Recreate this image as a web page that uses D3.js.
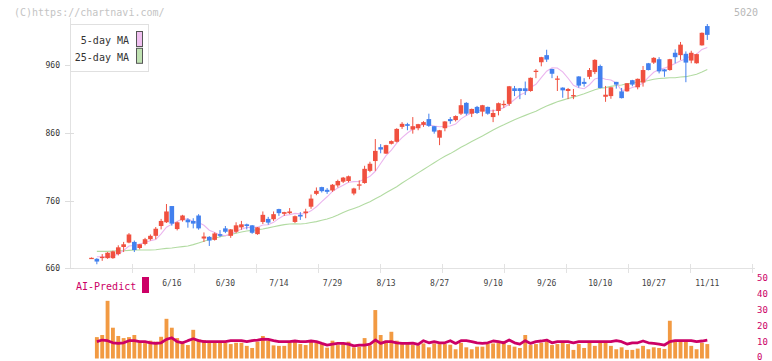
<!DOCTYPE html>
<html><head><meta charset="utf-8">
<script src="https://cdn.jsdelivr.net/npm/d3@7"></script>
<style>html,body{margin:0;padding:0;background:#fff;}svg{display:block;}</style>
</head><body>
<svg id="c" width="772" height="361"></svg>
<script>
const dates = ["5/26","5/27","5/28","5/29","5/30",
"6/2","6/3","6/4","6/5","6/6","6/9","6/10","6/11","6/12","6/13","6/16","6/17","6/18","6/19","6/20","6/23","6/24","6/25","6/26","6/27","6/30",
"7/1","7/2","7/3","7/4","7/7","7/8","7/9","7/10","7/11","7/14","7/15","7/16","7/17","7/18","7/22","7/23","7/24","7/25","7/28","7/29","7/30","7/31",
"8/1","8/4","8/5","8/6","8/7","8/8","8/12","8/13","8/14","8/15","8/18","8/19","8/20","8/21","8/22","8/25","8/26","8/27","8/28","8/29",
"9/1","9/2","9/3","9/4","9/5","9/8","9/9","9/10","9/11","9/12","9/16","9/17","9/18","9/19","9/22","9/24","9/25","9/26","9/29","9/30",
"10/1","10/2","10/3","10/6","10/7","10/8","10/9","10/10","10/14","10/15","10/16","10/17","10/20","10/21","10/22","10/23","10/24","10/27","10/28","10/29","10/30","10/31",
"11/4","11/5","11/6","11/7","11/10","11/11"];

const open = [675,674,676,675,675,681,691.5,698,699,690,696,703,708,722.5,728,752,718,731,732,730,738,704,706.5,702,710.5,719,
708,714,720.5,725,723.5,710.5,728.5,733,732.5,747.5,740.5,741.5,728.5,739,741.5,751,770,780,776,775,782.5,788,
789,770.5,782.5,786,804,818.5,839,829.5,844,847,869,873,865,867,872,880.5,870,853,867,880.5,
879,888.5,904.5,888.5,898.5,891.5,898.5,883.5,892.5,901.5,903,926,926,926,922,950.5,964.5,975,954.5,939,
927,922,915,943.5,935.5,943,950,959,913.5,914.5,935.5,921.5,921.5,938,927.5,934.5,963,964,969,954,953,978.5,
975,977,967,963,989.5,1018];
const high = [676,675,681,684,686,694,699,712,701,696,705,710,721,733,755,752,729,739,734,734,740,713,707.5,713,716.5,722.5,
718,728,730,726,724,721,744,736,744,748,743.5,749,738,743,748,769,779.5,780.5,778.5,784.5,791,795,
797,779,790,811.5,817.5,851,843.5,842.5,849,867,876,875,883.5,873.5,877.5,888.5,870.5,864.5,877.5,883.5,
886,910,905.5,896,900,901.5,899,894.5,905,908,929.5,929.5,926.5,936,942,954.5,972.5,983,955,944.5,
927.5,926.5,925,944,941,956,969,961,929.5,927.5,935.5,926.5,933.5,938.5,940.5,959,963.5,972,972,954.5,969.5,983.5,
994.5,980.5,981.5,977,1008.5,1021];
const low = [674.5,666,671,674,674,679,684,697,684,688,694,701,703,717.5,727,723,716,729,720,719,717,699,693,701,706,712,
705,712,717,717.5,711,709.5,725.5,724.5,730,737.5,737.5,740,727,731.5,734,748,768,772,770,773,779.5,786,
787,768,776,785,802,804,830,829,843,846,866,864,859,864,869,869,859,842,862.5,873.5,
877,886.5,886,883.5,888,884.5,887,876,886,897,900,914.5,910,916,921,941,958.5,965,941,922,
912,910,910,927,928.5,939.5,947,926,906,910.5,925.5,911,921,929,924.5,928.5,952.5,962,948,943,952,963,
968,935,963,962.5,989,997.5];
const close = [675.5,670,677,683,685,691,695.5,710,687,695.5,703,708,718.5,730,744,726,728,738,728,726,719,707,701,711.5,708,714,
717.5,723.5,725,722.5,712.5,720.5,739,727.5,740,741.5,743,744,737,736.5,744,763,774.5,774,773,783.5,789,794,
796,778,784,807,814.5,833.5,835.5,842,848,866,873.5,870.5,870,873,876,870.5,862,864,877,877.5,
885,901,888.5,895.5,889.5,901,888.5,889.5,904,903,929,922,922,922,941.5,952,972,968.5,947.5,940.5,
923,925,916,930,932.5,953,968,926.5,916.5,927.5,931.5,911.5,933.5,931.5,940,953,953,971,951,951,969,972,
990.5,964,978.5,976.5,1008,1005];

const ma5 = [null,677,677,677.5,678.1,681.2,686.3,692.9,693.7,695.8,698.2,700.7,702.4,711,720.7,725.3,729.3,733.2,732.8,729.2,727.8,723.6,716.2,712.9,709.3,708.3,
710.4,714.9,717.6,720.5,720.2,720.8,723.9,724.4,727.9,733.7,738.2,739.2,741.1,740.4,740.9,744.9,751,758.4,765.7,773.6,778.8,782.7,
787.1,788.1,788.2,791.8,795.9,803.4,814.9,826.5,834.7,845,853,860,865.6,870.6,872.6,872,870.3,869.1,869.9,870.2,
873.1,880.9,885.8,889.5,891.9,895.1,892.6,892.8,894.5,897.2,902.8,909.5,916,919.6,927.3,931.9,941.9,951.2,956.3,956.1,
950.3,940.9,930.4,926.9,925.3,931.3,939.9,942,939.3,938.3,934,922.7,924.1,927.1,929.6,933.9,942.2,949.7,953.6,955.8,959,962.8,
966.7,969.3,974.8,976.3,983.5,986.4];

const ma25 = [null,685,685,685,685.5,686,686,686.5,687,687,687,687,687.5,688.5,689.5,690,691,692,693,695,697.5,700,702.5,704.5,706.6,708.2,
710.1,711.9,713.6,715.1,716,717,718.1,719.7,721.5,723.1,724.5,725.5,725.8,725.5,726.2,727.6,729,730.9,732.8,735.3,738.6,742.3,
745.7,748.5,751.3,754.9,758.5,762.9,767,771.5,776,780.5,786,791,796,801,806,811,816,821,825.5,829.5,
834,839,843,847.5,851.5,855.5,860,864.5,868.5,872,876,879.5,883,886,889,892,896,900,903,906,
908.5,911,913,915.5,918,921,924,926,927,928.8,930.1,931,932.7,933.8,935.3,936.3,937.5,939.5,940.6,941,941.7,941.7,
942.6,943.2,944.8,946.9,950.2,953.8];

const volume = [null,13.2,14.5,35.6,19,13.9,12.6,13.2,14.5,10.4,9.5,11,10.4,13.4,24.5,19,12.6,10.4,8.3,17.7,11.8,11.4,9.7,9.7,9.7,9.7,
8.9,9.7,9.7,7.8,6.5,10.4,13.9,11,8.1,7.8,7.8,9.7,10.4,8.9,8.3,10.4,9.7,8.9,6.7,11,8.3,9.7,
10.4,6.9,7.3,12.6,8.1,29.9,14.5,11,16.5,11,8.9,8.9,8.5,8.2,9.3,6.9,9.3,8.9,8.9,8.5,
5.7,9.7,6.9,5.7,7.3,7.3,9.3,9.3,9.7,10.8,8.3,7.3,6.5,14.5,8.3,8.9,9.7,10.6,8.3,8.9,
9.7,8.9,5.3,8.9,6.5,9.7,7.8,9.7,9.7,7.8,5.7,6.9,5.3,5.3,6.1,7.8,5.7,6.9,6.5,5.9,23.3,11,
11,11,7.8,5.7,9.7,8.9];

const aiPredict = [null,10.4,11.4,11,9.7,9.3,9.7,11,11,10.4,10.4,9.7,9.3,9.7,11.8,12.8,10.4,9.7,11,12.2,11,10.4,10.4,10.4,10.4,10.4,
11,11,11,10.4,11,11.4,12,11.8,11,10.4,10.4,10.4,10.8,10.4,10.4,10.8,10.4,9.3,8.3,8.9,9.3,9.3,
8.9,7.8,8.3,8.3,8.9,11.4,9.3,10.4,10.4,9.7,9.3,9.3,9.5,8.7,11,9.7,10.4,9.7,9.7,11,
9.3,11,11,10.4,9.7,9.3,9.7,10.8,10.4,9.7,11.4,9.7,8.9,11,9.3,10.4,10.8,11.4,9.7,10.4,
10.4,10.4,9.7,10.4,10.4,10.4,10.4,10.4,10.4,10.4,11,10.4,8.9,9.7,9.7,10.8,9.7,9.3,8.9,8.3,10.4,11,
11,11,11,10.4,10.8,11.4];

const priceTicks = [660,760,860,960];
const dateLabels = ["6/16","6/30","7/14","7/29","8/13","8/27","9/10","9/26","10/10","10/27","11/11"];
const volTicks = [0,10,20,30,40,50];
const gridSteps = [1,2,3,4,5,6,7,8,9,10,11];

const svg = d3.select("#c");
const FONT = "'DejaVu Sans Mono', 'Liberation Mono', monospace";
const UP = "#f0503f", DOWN = "#4280ee";

const x = d3.scalePoint().domain(dates).range([91.5, 707.3]);
const step = x.step();
const y = d3.scaleLinear().domain([660, 960]).range([268.3, 65.3]);
const yv = d3.scaleLinear().domain([0, 50]).range([358.5, 277.5]);
const grid = d3.scaleLinear().domain([0, 11]).range([70, 752]);

svg.append("rect").attr("width",772).attr("height",361).attr("fill","#fff");

// header texts
svg.append("text").attr("x",14).attr("y",16).attr("font-family",FONT).attr("font-size",10)
  .attr("fill","#c4c4c4").text("(C)https://chartnavi.com/");
svg.append("text").attr("x",734).attr("y",16).attr("font-family",FONT).attr("font-size",10)
  .attr("fill","#b8b8b8").text("5020");

// axes
svg.append("line").attr("x1",70.5).attr("x2",70.5).attr("y1",18).attr("y2",268).attr("stroke","#e2e2e2");
svg.append("line").attr("x1",70).attr("x2",755).attr("y1",268.5).attr("y2",268.5).attr("stroke","#e2e2e2");
svg.append("g").selectAll("line").data(gridSteps).join("line")
  .attr("x1",d=>Math.round(grid(d))+0.5).attr("x2",d=>Math.round(grid(d))+0.5)
  .attr("y1",264).attr("y2",273).attr("stroke","#e2e2e2");
const yt = svg.append("g");
yt.selectAll("line").data(priceTicks).join("line")
  .attr("x1",65).attr("x2",74).attr("y1",d=>Math.round(y(d))+0.5).attr("y2",d=>Math.round(y(d))+0.5)
  .attr("stroke","#dddddd");
yt.selectAll("text").data(priceTicks).join("text")
  .attr("x",60).attr("y",d=>y(d)+3).attr("text-anchor","end")
  .attr("font-family",FONT).attr("font-size",8).attr("fill","#333").text(d=>d);

svg.append("g").selectAll("text").data(dateLabels).join("text")
  .attr("x",d=>x(d)).attr("y",286).attr("text-anchor","middle")
  .attr("font-family",FONT).attr("font-size",8).attr("fill","#444").text(d=>d);

// moving averages
const idx = d3.range(dates.length);
const maLine = arr => d3.line().defined(i=>arr[i]!=null).x(i=>x(dates[i])).y(i=>y(arr[i]));
svg.append("path").attr("d",maLine(ma25)(idx)).attr("fill","none").attr("stroke","#b2dba2").attr("stroke-width",1.1);
svg.append("path").attr("d",maLine(ma5)(idx)).attr("fill","none").attr("stroke","#ebb5ee").attr("stroke-width",1.1);

// candles
const bw = step*0.86;
const cg = svg.append("g");
cg.selectAll("line").data(idx).join("line")
  .attr("x1",i=>x(dates[i])).attr("x2",i=>x(dates[i]))
  .attr("y1",i=>y(high[i])).attr("y2",i=>y(low[i]))
  .attr("stroke",i=>close[i]>=open[i]?UP:DOWN).attr("stroke-width",1);
cg.selectAll("rect").data(idx).join("rect")
  .attr("x",i=>x(dates[i])-bw/2).attr("width",bw)
  .attr("y",i=>y(Math.max(open[i],close[i])))
  .attr("height",i=>Math.max(1.3, Math.abs(y(open[i])-y(close[i]))))
  .attr("fill",i=>close[i]>=open[i]?UP:DOWN);

// legend
const lg = svg.append("g");
lg.append("rect").attr("x",70.5).attr("y",24.5).attr("width",78).attr("height",47).attr("fill","#fff").attr("stroke","#e0e0e0");
const legendItems = [{t:"5-day MA",c:"#f0c0f0"},{t:"25-day MA",c:"#c0e2b2"}];
lg.selectAll("text").data(legendItems).join("text")
  .attr("x",129).attr("y",(d,i)=>44+i*16.5).attr("text-anchor","end")
  .attr("font-family",FONT).attr("font-size",10).attr("fill","#333").text(d=>d.t);
lg.selectAll("rect.sw").data(legendItems).join("rect").attr("class","sw")
  .attr("x",136.5).attr("y",(d,i)=>31.5+i*16.8).attr("width",6).attr("height",15)
  .attr("fill",d=>d.c).attr("stroke","#555");

// lower panel
svg.append("text").attr("x",76).attr("y",290).attr("font-family",FONT).attr("font-size",10)
  .attr("fill","#cc0066").text("AI-Predict");
svg.append("rect").attr("x",142).attr("y",277).attr("width",7).attr("height",16).attr("fill","#cc0066");

const vw = step*0.72;
svg.append("g").selectAll("rect").data(idx.filter(i=>volume[i]!=null)).join("rect")
  .attr("x",i=>x(dates[i])-vw/2).attr("width",vw)
  .attr("y",i=>yv(volume[i])).attr("height",i=>yv(0)-yv(volume[i]))
  .attr("fill","#f29a42");

svg.append("path")
  .attr("d", d3.line().defined(i=>aiPredict[i]!=null).x(i=>x(dates[i])).y(i=>yv(aiPredict[i]))(idx))
  .attr("fill","none").attr("stroke","#cc0066").attr("stroke-width",2.8).attr("stroke-linejoin","round");

svg.append("g").selectAll("text").data(volTicks).join("text")
  .attr("x",757).attr("y",d=>Math.min(yv(d)+3, 360.3)).attr("font-family",FONT).attr("font-size",9)
  .attr("fill","#cc0066").text(d=>d);
</script>
</body></html>
